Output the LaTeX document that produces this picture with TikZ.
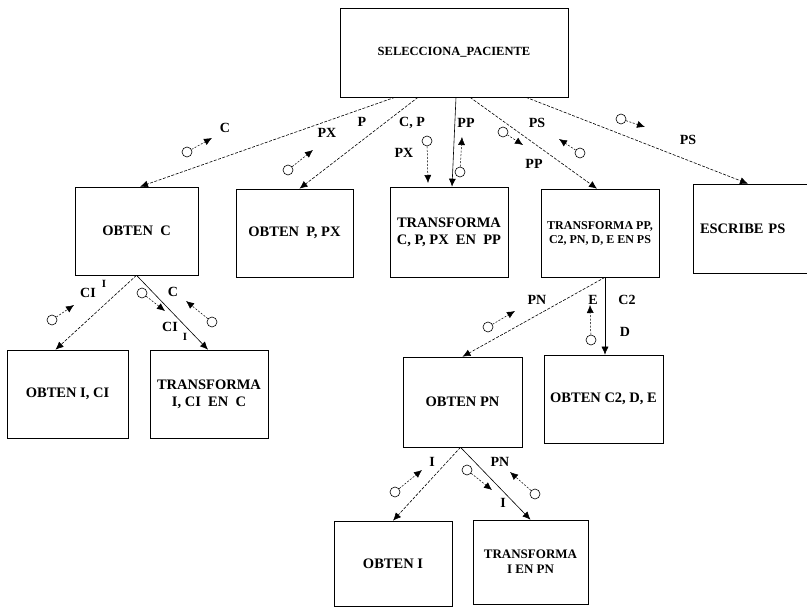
\documentclass[tikz,border=0pt]{standalone}
\usepackage{fontspec}
\setmainfont{Liberation Serif}
\usetikzlibrary{arrows.meta, positioning}
\tikzset{
    module/.style={rectangle, draw, line width=0.6pt, inner sep=1pt, align=center, font=\fontsize{14.5}{17}\selectfont\bfseries},
    callSolid/.style={-{Latex[length=8pt, width=7pt]}, line width=0.6pt},
    callDashed/.style={callSolid, dash pattern=on 3pt off 1.5pt},
    coupleO/.style={circle, draw, line width=0.6pt, inner sep=0pt, minimum size=10pt},
    coupleArrow/.style={-{Latex[length=8pt, width=7pt]}, line width=0.5pt, dash pattern=on 2pt off 1.5pt},
    lbl/.style={inner sep=0pt, font=\fontsize{14}{14}\selectfont\bfseries},
}
% circle of a data couple, then its short arrow
\newcommand{\dataCouple}[3]{
    \node[coupleO] (#1) at #2 {};
    \coordinate (#1h) at #3;
    \draw[coupleArrow] (#1) -- (#1h);
}

\begin{document}
\begin{tikzpicture}[x=1pt, y=-1pt]
    \useasboundingbox (0,0) rectangle (807,609);

    % modules
    \node[module, minimum width=228pt, minimum height=89pt, font=\fontsize{12.5}{15}\selectfont\bfseries] (sel) at (454,52.5) {SELECCIONA\_PACIENTE};
    \node[module, minimum width=123pt, minimum height=88pt] (obtC) at (136.5,231) {OBTEN\ \ C};
    \node[module, minimum width=117pt, minimum height=88pt] (obtP) at (294.5,233) {OBTEN\ \ P, PX};
    \node[module, minimum width=118pt, minimum height=90pt] (trC) at (449,232) {TRANSFORMA\\C, P, PX\ \ EN\ \ PP};
    \node[module, minimum width=118pt, minimum height=88pt, font=\fontsize{12}{14}\selectfont\bfseries] (trPP) at (600,233) {TRANSFORMA PP,\\C2, PN, D, E EN PS};
    \node[module, minimum width=122pt, minimum height=89pt, text width=108pt, align=left] (escr) at (754,228.5) {ESCRIBE PS};
    \node[module, minimum width=121pt, minimum height=88pt] (obtI) at (67.5,394) {OBTEN I, CI};
    \node[module, minimum width=118pt, minimum height=88pt] (trI) at (209,394) {TRANSFORMA\\I, CI\ \ EN\ \ C};
    \node[module, minimum width=119pt, minimum height=90pt] (obtPN) at (462.5,402) {OBTEN PN};
    \node[module, minimum width=119pt, minimum height=88pt] (obtC2) at (603.5,399) {OBTEN C2, D, E};
    \node[module, minimum width=118pt, minimum height=85pt] (obtI4) at (393,563.5) {OBTEN I};
    \node[module, minimum width=115pt, minimum height=84pt, font=\fontsize{13}{15}\selectfont\bfseries] (trIPN) at (530.5,562) {TRANSFORMA\\I EN PN};

    % calls
    \draw[callDashed] ([xshift=-59pt]sel.south) -- ([xshift=3.5pt]obtC.north);
    \draw[callDashed] ([xshift=-36pt]sel.south) -- ([xshift=5pt]obtP.north);
    \draw[callSolid] ([xshift=2pt]sel.south) -- ([xshift=3pt]trC.north);
    \draw[callDashed] ([xshift=16pt]sel.south) -- ([xshift=-3pt]trPP.north);
    \draw[callDashed] ([xshift=72pt]sel.south) -- ([xshift=-6pt]escr.north);
    \draw[callDashed] (obtC.south) -- ([xshift=-12pt]obtI.north);
    \draw[callSolid] (obtC.south) -- ([xshift=-1pt]trI.north);
    \draw[callDashed] ([xshift=5pt]trPP.south) -- (obtPN.north);
    \draw[callSolid] ([xshift=5pt]trPP.south) -- ([xshift=1.5pt]obtC2.north);
    \draw[callDashed] ([xshift=-2pt]obtPN.south) -- (obtI4.north);
    \draw[callSolid] ([xshift=-2pt]obtPN.south) -- (trIPN.north);

    % data couples
    \dataCouple{c1}{(187,152)}{(212,138)}
    \dataCouple{c2}{(288,170)}{(313,150)}
    \dataCouple{c3}{(427,141)}{(428,183)}
    \dataCouple{c4}{(460,172)}{(462,137)}
    \dataCouple{c5}{(503,132)}{(523,145)}
    \dataCouple{c6}{(580,153)}{(559,139)}
    \dataCouple{c7}{(621,119)}{(645,127)}
    \dataCouple{c8}{(52,320)}{(74,305)}
    \dataCouple{c9}{(142,293)}{(165,311)}
    \dataCouple{c10}{(212,322)}{(186,301)}
    \dataCouple{c11}{(488,327)}{(515,311)}
    \dataCouple{c12}{(591,340)}{(590,305)}
    \dataCouple{c13}{(395,492)}{(422,470)}
    \dataCouple{c14}{(467,470)}{(492,490)}
    \dataCouple{c15}{(535,494)}{(510,472)}

    % couple labels
    \node[lbl] (lC) at (225,128) {C};
    \node[lbl] (lPX) at (327,133) {PX};
    \node[lbl] (lP) at (362,122) {P};
    \node[lbl] (lCP) at (412,123) {C, P};
    \node[lbl] (lPX2) at (404,153) {PX};
    \node[lbl] (lPP) at (466,123) {PP};
    \node[lbl] (lPS) at (537,123) {PS};
    \node[lbl] (lPP2) at (534,164) {PP};
    \node[lbl] (lPS2) at (688,140) {PS};
    \node[lbl] (lCI) at (88,293) {CI};
    \node[lbl, font=\fontsize{11}{11}\selectfont\bfseries] (lI) at (104,284) {I};
    \node[lbl] (lC2) at (173,292) {C};
    \node[lbl] (lCI2) at (170,327) {CI};
    \node[lbl, font=\fontsize{11}{11}\selectfont\bfseries] (lI2) at (185,337) {I};
    \node[lbl] (lPN) at (537,300) {PN};
    \node[lbl] (lE) at (593,300) {E};
    \node[lbl] (lCdos) at (627,300) {C2};
    \node[lbl] (lD) at (625,332) {D};
    \node[lbl] (lI3) at (432,462) {I};
    \node[lbl] (lPN2) at (500,462) {PN};
    \node[lbl] (lI4) at (503,503) {I};
\end{tikzpicture}
\end{document}
